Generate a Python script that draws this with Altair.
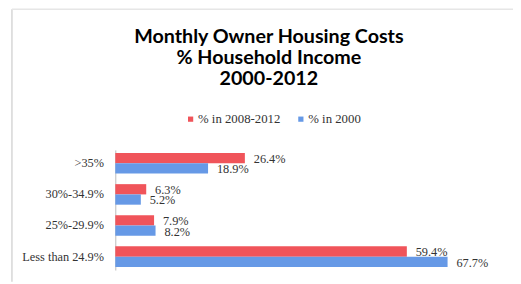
import altair as alt
import pandas as pd

title_lines = ["Monthly Owner Housing Costs", "% Household Income", "2000-2012"]
categories = [">35%", "30%-34.9%", "25%-29.9%", "Less than 24.9%"]
series = ["% in 2008-2012", "% in 2000"]
values_2008_2012 = [26.4, 6.3, 7.9, 59.4]
values_2000 = [18.9, 5.2, 8.2, 67.7]
colors = ["#f0545a", "#6699e6"]

rows = []
for c, a, b in zip(categories, values_2008_2012, values_2000):
    rows.append({"category": c, "series": series[0], "value": a, "label": f"{a:.1f}%"})
    rows.append({"category": c, "series": series[1], "value": b, "label": f"{b:.1f}%"})
df = pd.DataFrame(rows)

serif = "Liberation Serif"

y_enc = alt.Y("category:N", sort=categories, title=None,
              scale=alt.Scale(paddingInner=0.34, paddingOuter=0.1),
              axis=alt.Axis(labelFont=serif, labelFontSize=12.5, labelColor="#333333",
                            ticks=False, labelPadding=12, domainColor="#bbbbbb"))
x_enc = alt.X("value:Q", scale=alt.Scale(domain=[0, 70], nice=False), axis=None)
yoff = alt.YOffset("series:N", sort=series)

base = alt.Chart(df)

bars = base.mark_bar().encode(
    y=y_enc, x=x_enc, yOffset=yoff,
    color=alt.Color("series:N", sort=series,
                    scale=alt.Scale(domain=series, range=colors),
                    legend=alt.Legend(title=None, orient="none", direction="horizontal",
                                      legendX=70, legendY=-38, symbolType="square",
                                      symbolSize=28, symbolStrokeWidth=0,
                                      labelFont=serif, labelFontSize=13, labelColor="#333333",
                                      labelOffset=1, columnPadding=14)),
)

text = base.mark_text(align="left", baseline="middle", dx=9, dy=1, font=serif,
                      fontSize=12.5, color="#333333").encode(
    y=alt.Y("category:N", sort=categories), x="value:Q", yOffset=yoff, text="label:N"
)

one = alt.Data(values=[{"k": 1}])
vline = alt.Chart(one).mark_rule(color="#d6d6d6", strokeWidth=1.5).encode(
    x=alt.value(-105), y=alt.value(-143), y2=alt.value(134))
hline = alt.Chart(one).mark_rule(color="#e6e6e6", strokeWidth=1.5).encode(
    x=alt.value(-105), x2=alt.value(410), y=alt.value(-143))

title = alt.Chart(one).mark_text(
    font="Lato", fontSize=20, fontWeight="bold", color="#000000",
    lineHeight=21.5, align="center", baseline="alphabetic").encode(
    x=alt.value(156), y=alt.value(-109), text=alt.value(title_lines))

chart = alt.layer(vline, hline, title, bars, text).properties(
    width=349, height=122,
    autosize=alt.AutoSizeParams(type="none"),
    padding={"left": 109, "top": 142, "right": 55, "bottom": 10},
).configure_view(stroke=None)

chart.save("out.html", embed_options={"renderer": "svg", "actions": False})
